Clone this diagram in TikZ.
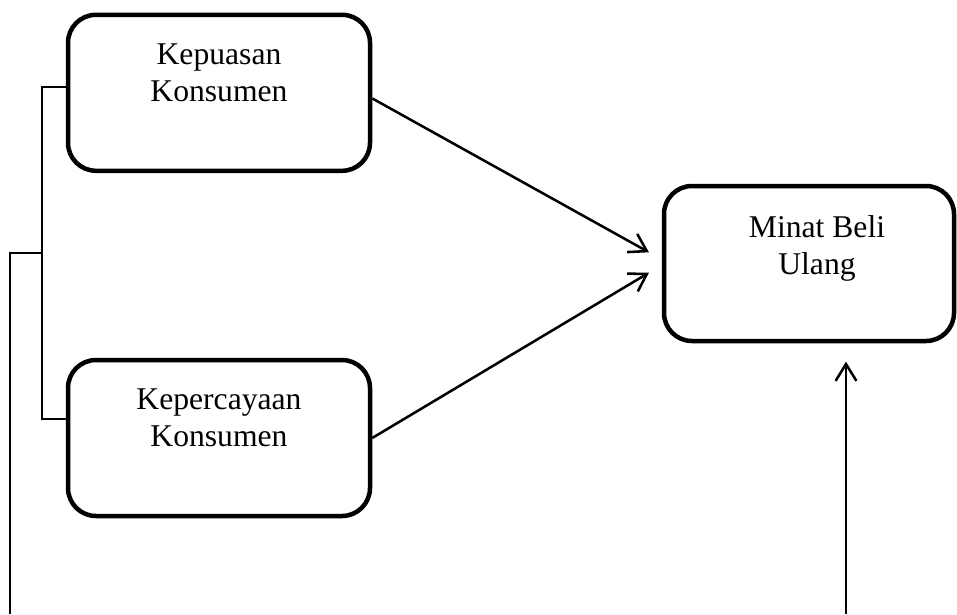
\documentclass[tikz,border=0pt]{standalone}
\usepackage{fontspec}
\setmainfont{Liberation Serif}
\usetikzlibrary{positioning, arrows.meta}

\begin{document}
\begin{tikzpicture}[
    >={Straight Barb[length=0.42cm, width=0.52cm]},
    varbox/.style={draw, rectangle, rounded corners=0.7cm, line width=3.2pt, minimum width=7.55cm, minimum height=3.9cm},
    txt/.style={align=center, inner sep=0pt, anchor=north, font=\fontsize{22.5}{26.3}\selectfont},
    linkline/.style={line width=1.4pt},
    mainarrow/.style={->, line width=1.8pt}
]
\useasboundingbox (0,0) rectangle (23.925,-15.35);

% ==========================================
% Variable Boxes
% ==========================================
\node[varbox] (Kepuasan) at (5.475, -2.32) {};
\node[txt] (Kepuasan_txt) at ([yshift=-0.78cm]Kepuasan.north) {Kepuasan\\Konsumen};

\node[varbox] (Kepercayaan) at (5.475, -10.95) {};
\node[txt] (Kepercayaan_txt) at ([yshift=-0.78cm]Kepercayaan.north) {Kepercayaan\\Konsumen};

\node[varbox, minimum width=7.25cm, minimum height=3.875cm] (Minat) at (20.225, -6.5875) {};
\node[txt] (Minat_txt) at ([xshift=0.2cm, yshift=-0.78cm]Minat.north) {Minat Beli\\Ulang};

% ==========================================
% Bracket (simultaneous)
% ==========================================
\coordinate (br_top) at ([yshift=0.14cm]Kepuasan.west);
\coordinate (br_bot) at ([yshift=0.475cm]Kepercayaan.west);
\coordinate (br_mid) at (1.05, -6.325);
\coordinate (out_left) at (0.25, -15.35);
\draw[linkline] (br_top) -- (br_top -| br_mid) -- (br_bot -| br_mid) -- (br_bot);
\draw[linkline] (br_mid) -- (br_mid -| out_left) -- (out_left);

% ==========================================
% Arrows to Minat Beli Ulang
% ==========================================
\draw[mainarrow] ([yshift=-0.14cm]Kepuasan.east) -- ([xshift=-0.32cm, yshift=0.28cm]Minat.west);
\draw[mainarrow] (Kepercayaan.east) -- ([xshift=-0.32cm, yshift=-0.23cm]Minat.west);

% Simultaneous effect
\coordinate (out_right) at (21.15, -15.35);
\coordinate (tip_right) at ([yshift=-0.46cm]Minat.south);
\draw[mainarrow] (out_right) -- (out_right |- tip_right);

\end{tikzpicture}
\end{document}
